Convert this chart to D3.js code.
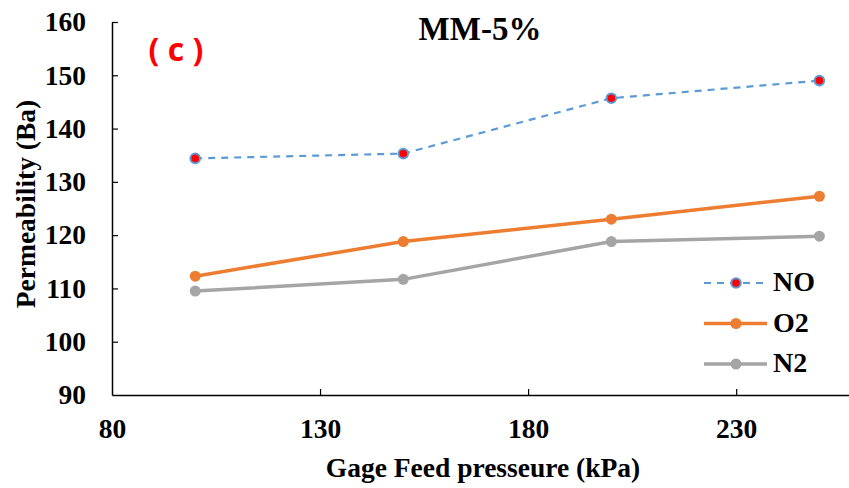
<!DOCTYPE html>
<html><head><meta charset="utf-8">
<script src="https://cdn.jsdelivr.net/npm/d3@7"></script>
<style>body{margin:0;background:#fff}svg{display:block}</style>
</head><body>
<script>
const pressures = [100, 150, 200, 250];
const NO = [134.4, 135.3, 145.7, 149.0];
const O2 = [112.3, 118.8, 123.0, 127.3];
const N2 = [109.5, 111.7, 118.8, 119.8];
const xTicks = [80, 130, 180, 230];
const yTicks = [90, 100, 110, 120, 130, 140, 150, 160];
const seriesNames = ["NO", "O2", "N2"];

const W = 849, H = 488;
const svg = d3.select("body").append("svg").attr("width", W).attr("height", H);
const x = d3.scaleLinear().domain([80, 260]).range([112, 861]);
const y = d3.scaleLinear().domain([90, 160]).range([395, 22]);
const font = "'Liberation Serif','Times New Roman',serif";

// axes
const xa = svg.append("g").attr("transform", `translate(0,${y(90)})`)
  .call(d3.axisBottom(x).tickValues(xTicks).tickSizeInner(-6).tickSizeOuter(0).tickPadding(23));
const ya = svg.append("g").attr("transform", `translate(${x(80)},0)`)
  .call(d3.axisLeft(y).tickValues(yTicks).tickSizeInner(-6).tickSizeOuter(0).tickPadding(26));
[xa, ya].forEach(a => {
  a.select(".domain").attr("stroke", "#000").attr("stroke-width", 1.5);
  a.selectAll(".tick line").attr("stroke", "#000").attr("stroke-width", 1.2);
  a.selectAll("text").attr("font-family", font).attr("font-weight", "bold")
    .attr("font-size", 27.5).attr("fill", "#000");
});
ya.selectAll(".tick").filter(d => d === 90).select("line").remove();
xa.selectAll(".tick").filter(d => d === 80).select("line").remove();

const series = [
  {name: "NO", vals: NO, color: "#5B9BD5", dash: "7,6", w: 2.2, fill: "#FF0000"},
  {name: "O2", vals: O2, color: "#ED7D31", dash: null, w: 3.5, fill: "#ED7D31"},
  {name: "N2", vals: N2, color: "#A5A5A5", dash: null, w: 3.5, fill: "#A5A5A5"}
];
const line = d3.line().x(d => x(d[0])).y(d => y(d[1]));
series.forEach(s => {
  const pts = pressures.map((p, i) => [p, s.vals[i]]);
  svg.append("path").datum(pts).attr("d", line).attr("fill", "none")
    .attr("stroke", s.color).attr("stroke-width", s.w)
    .attr("stroke-dasharray", s.dash);
  svg.selectAll(null).data(pts).enter().append("circle")
    .attr("cx", d => x(d[0])).attr("cy", d => y(d[1])).attr("r", s.name === "NO" ? 4.8 : 5.5)
    .attr("fill", s.fill).attr("stroke", s.name === "NO" ? s.color : "none").attr("stroke-width", 2);
});

// legend
const lg = svg.append("g");
series.forEach((s, i) => {
  const ly = 283 + i * 40.5;
  lg.append("line").attr("x1", 704).attr("x2", 767).attr("y1", ly).attr("y2", ly)
    .attr("stroke", s.color).attr("stroke-width", s.w).attr("stroke-dasharray", s.dash);
  lg.append("circle").attr("cx", 736).attr("cy", ly).attr("r", s.name === "NO" ? 4.8 : 5.5)
    .attr("fill", s.fill).attr("stroke", s.name === "NO" ? s.color : "none").attr("stroke-width", 2);
  lg.append("text").attr("x", 773).attr("y", ly + 8).text(s.name)
    .attr("font-family", font).attr("font-weight", "bold").attr("font-size", 28).attr("fill", "#000");
});

// title
svg.append("text").attr("x", 480).attr("y", 40).attr("text-anchor", "middle")
  .attr("font-family", font).attr("font-weight", "bold").attr("font-size", 33).text("MM-5%");
svg.append("text").attr("x", 176).attr("y", 61).attr("text-anchor", "middle")
  .attr("font-family", "'Open Sans','DejaVu Sans',sans-serif").attr("font-weight", "bold")
  .attr("font-size", 32).attr("fill", "#FF0000").text("( c )");

// axis titles
svg.append("text").attr("x", 483).attr("y", 477).attr("text-anchor", "middle")
  .attr("font-family", font).attr("font-weight", "bold").attr("font-size", 27.5).text("Gage Feed presseure (kPa)");
svg.append("text").attr("transform", `translate(35,204) rotate(-90)`)
  .attr("text-anchor", "middle")
  .attr("font-family", font).attr("font-weight", "bold").attr("font-size", 27.5).text("Permeability (Ba)");
</script>
</body></html>
